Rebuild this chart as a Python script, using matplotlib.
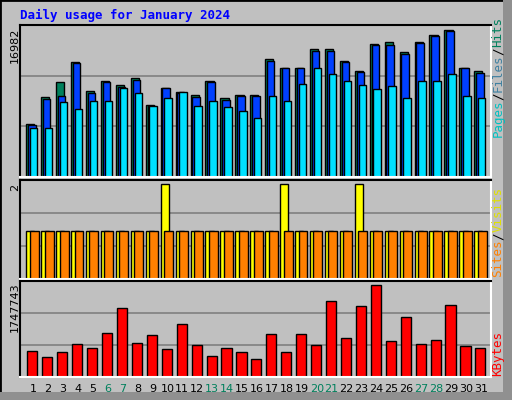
import matplotlib
matplotlib.use("Agg")
import matplotlib.pyplot as plt
from matplotlib.patches import Rectangle
import numpy as np

days = list(range(1, 32))
weekends = [6, 7, 13, 14, 20, 21, 27, 28]
hits = [6100, 9200, 10900, 13300, 9900, 11000, 10600, 11400, 8300, 10300, 9800, 9400, 11000, 9100, 9500, 9500,
        13600, 12600, 12600, 14700, 14800, 13400, 12200, 15300, 15500, 14400, 15500, 16400, 16982, 12600, 12200]
files = [6000, 9000, 9300, 13100, 9700, 10900, 10400, 11200, 8200, 10200, 9700, 9200, 10900, 8900, 9300, 9300,
         13400, 12500, 12500, 14500, 14500, 13300, 12100, 15200, 15200, 14200, 15400, 16200, 16800, 12500, 12000]
pages = [5600, 5600, 8600, 7800, 8800, 8800, 10200, 9700, 8200, 9100, 9800, 8200, 8800, 8100, 7600, 6800,
         9300, 8800, 10700, 12500, 11900, 11000, 10600, 10100, 10500, 9100, 11100, 11100, 11900, 9300, 9100]
visits = [1]*31
for d in (10, 18, 23):
    visits[d-1] = 2
sites = [1]*31
kbytes = [500000, 385000, 480000, 635000, 560000, 830000, 1310000, 655000, 790000, 540000, 1000000, 615000,
          405000, 560000, 480000, 345000, 810000, 480000, 810000, 615000, 1440000, 735000, 1350000, 1747743,
          675000, 1135000, 635000, 695000, 1370000, 580000, 560000]

BG = "#C0C0C0"
W, H = 512, 400
fig = plt.figure(figsize=(W/100, H/100), dpi=100)
fig.patch.set_facecolor(BG)
fig.add_artist(Rectangle((0, 0), 1, 1, transform=fig.transFigure, fill=False, ec="black", lw=2))
fig.add_artist(Rectangle((503/W, 0), 9/W, 1, transform=fig.transFigure, fc="#909090", ec="none"))
fig.add_artist(Rectangle((0, 0), 1, 8/H, transform=fig.transFigure, fc="#909090", ec="none"))

fig.text(20/W, 1-15/H, "Daily usage for January 2024", color="#0000FF", family="DejaVu Sans Mono",
         weight="bold", fontsize=9, va="center")

def ax_at(x0, y0, x1, y1):
    ax = fig.add_axes([x0/W, 1-y1/H, (x1-x0)/W, (y1-y0)/H])
    ax.set_facecolor(BG)
    for s in ax.spines.values():
        s.set_linewidth(1.5)
    ax.spines["top"].set_color("black"); ax.spines["left"].set_color("black")
    ax.spines["bottom"].set_color("white"); ax.spines["right"].set_color("white")
    ax.set_xlim(0.13, 31.67)
    ax.set_xticks([]); ax.set_yticks([])
    return ax

x = np.array(days)
# top
ax1 = ax_at(20, 25, 491, 177)
top1 = 16982/0.97
ax1.set_ylim(0, top1)
for g in (top1/3, 2*top1/3):
    ax1.axhline(g, color="#808080", lw=1.2, zorder=0)
ax1.bar(x-0.45, hits, 0.55, align="edge", color="#00805C", ec="black", lw=1)
ax1.bar(x-0.33, files, 0.5, align="edge", color="#0040FF", ec="black", lw=1)
ax1.bar(x-0.2, pages, 0.5, align="edge", color="#00E0FF", ec="black", lw=1)
fig.text(15/W, 1-28/H, "16982", rotation=90, ha="center", va="top", fontsize=8)

# middle
ax2 = ax_at(20, 180, 491, 279)
top2 = 2/0.96
ax2.set_ylim(0, top2)
for g in (top2/3, 2*top2/3):
    ax2.axhline(g, color="#808080", lw=1.2, zorder=0)
ax2.bar(x-0.45, visits, 0.55, align="edge", color="#FFFF00", ec="black", lw=1)
ax2.bar(x-0.22, sites, 0.6, align="edge", color="#FF8000", ec="black", lw=1)
fig.text(15/W, 1-184/H, "2", rotation=90, ha="center", va="top", fontsize=8)

# bottom
ax3 = ax_at(20, 281, 491, 377)
top3 = 1747743*95/91
ax3.set_ylim(0, top3)
for g in (top3/3, 2*top3/3):
    ax3.axhline(g, color="#808080", lw=1.2, zorder=0)
ax3.bar(x-0.38, kbytes, 0.68, align="edge", color="#FF0000", ec="black", lw=1)
fig.text(15/W, 1-282/H, "1747743", rotation=90, ha="center", va="top", fontsize=8)

for d in days:
    c = "#00805C" if d in weekends else "black"
    fig.text((20 + (d-0.13)*(471/31.54))/W, 1-389/H, str(d), ha="center", va="center", fontsize=8, color=c)

def vlabel(parts, ybottom):
    y = ybottom
    for txt, col in parts:
        fig.text(498/W, 1-y/H, txt, rotation=90, ha="center", va="bottom", fontsize=9,
                 family="DejaVu Sans Mono", color=col)
        y -= len(txt)*7.2 + 1

vlabel([("Pages", "#00C0C0"), ("/", "black"), ("Files", "#4080A0"), ("/", "black"), ("Hits", "#00805C")], 137)
vlabel([("Sites", "#FF8000"), ("/", "black"), ("Visits", "#E0E000")], 277)
vlabel([("KBytes", "#FF0000")], 376)

fig.savefig("out.png", dpi=100, facecolor=BG)
